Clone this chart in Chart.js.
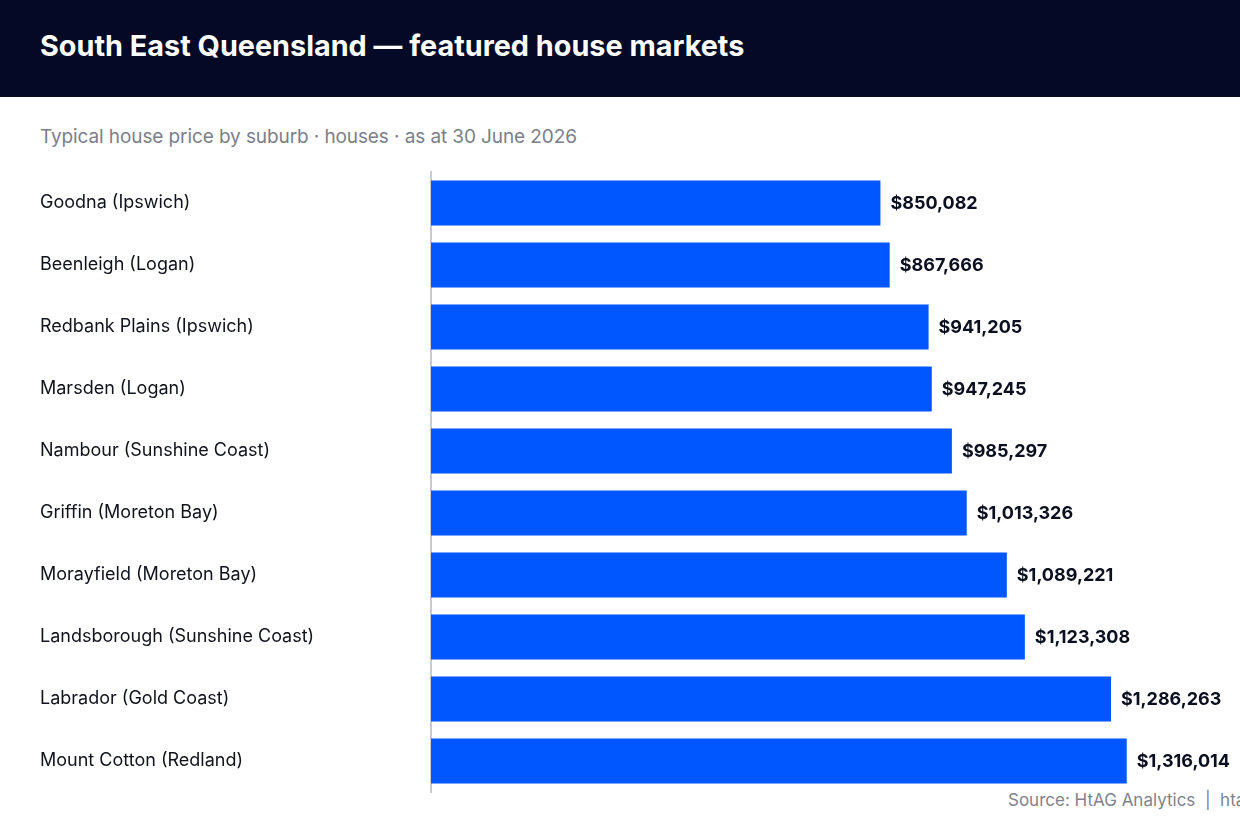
<!DOCTYPE html>
<html>
<head>
<meta charset="utf-8">
<script src="https://cdn.jsdelivr.net/npm/chart.js@4"></script>
<style>
	html, body {margin: 0; padding: 0; width: 1240px; height: 820px; overflow: hidden; background: #fff; font-family: Inter, "Noto Sans", sans-serif;}
	.head {position: absolute; left: 0; top: 0; width: 1240px; height: 97px; background: #040a26;}
	.head h1 {position: absolute; left: 40px; top: 28px; margin: 0; font-size: 28.8px; font-weight: 700; color: #fff;}
	.sub {position: absolute; left: 40px; top: 125px; font-size: 19px; color: #7b7e8b; letter-spacing: -0.1px;}
	.src {position: absolute; left: 1008px; top: 790px; font-size: 17px; color: #80838e; white-space: nowrap;}
	.wrap {position: absolute; left: 0; top: 0; width: 1240px; height: 820px;}
</style>
</head>
<body>
<div class="head"><h1>South East Queensland — featured house markets</h1></div>
<div class="sub">Typical house price by suburb · houses · as at 30 June 2026</div>
<div class="src">Source: HtAG Analytics &nbsp;|&nbsp; htag.com.au</div>
<div class="wrap"><canvas id="c"></canvas></div>
<script>
	let suburbs = [
		'Goodna (Ipswich)',
		'Beenleigh (Logan)',
		'Redbank Plains (Ipswich)',
		'Marsden (Logan)',
		'Nambour (Sunshine Coast)',
		'Griffin (Moreton Bay)',
		'Morayfield (Moreton Bay)',
		'Landsborough (Sunshine Coast)',
		'Labrador (Gold Coast)',
		'Mount Cotton (Redland)',
	];
	let prices = [850082, 867666, 941205, 947245, 985297, 1013326, 1089221, 1123308, 1286263, 1316014];

	let fmt = (v) => '$' + v.toLocaleString('en-US');

	// draws "$850,082" just past the end of each bar
	let valueLabels = {
		id: 'valueLabels',
		afterDatasetsDraw(chart) {
			let {ctx} = chart;
			let meta = chart.getDatasetMeta(0);
			ctx.save();
			ctx.font = '700 18px Inter, "Noto Sans", sans-serif';
			ctx.fillStyle = '#0b1020';
			ctx.textAlign = 'left';
			ctx.textBaseline = 'middle';
			meta.data.forEach((bar, i) => {
				ctx.fillText(fmt(prices[i]), bar.x + 10, bar.y + 1);
			});
			ctx.restore();
		},
	};

	new Chart(document.getElementById('c'), {
		type: 'bar',
		data: {
			labels: suburbs,
			datasets: [{
				data: prices,
				backgroundColor: '#0057ff',
				borderWidth: 0,
				categoryPercentage: 1,
				barPercentage: 0.726,
			}],
		},
		options: {
			indexAxis: 'y',
			responsive: true,
			maintainAspectRatio: false,
			animation: false,
			layout: {padding: {left: 40, right: 16, top: 172, bottom: 28}},
			plugins: {
				legend: {display: false},
				tooltip: {enabled: false},
			},
			scales: {
				x: {
					display: false,
					min: 0,
					max: 1500000,
				},
				y: {
					grid: {display: false, drawTicks: false},
					border: {display: true, color: '#c9cacf', width: 2},
					ticks: {
						crossAlign: 'far',
						padding: 0,
						color: '#10131c',
						font: {family: 'Inter, "Noto Sans", sans-serif', size: 18},
					},
					afterFit(scale) {
						scale.width = 391;
					},
				},
			},
		},
		plugins: [valueLabels],
	});
</script>
</body>
</html>
